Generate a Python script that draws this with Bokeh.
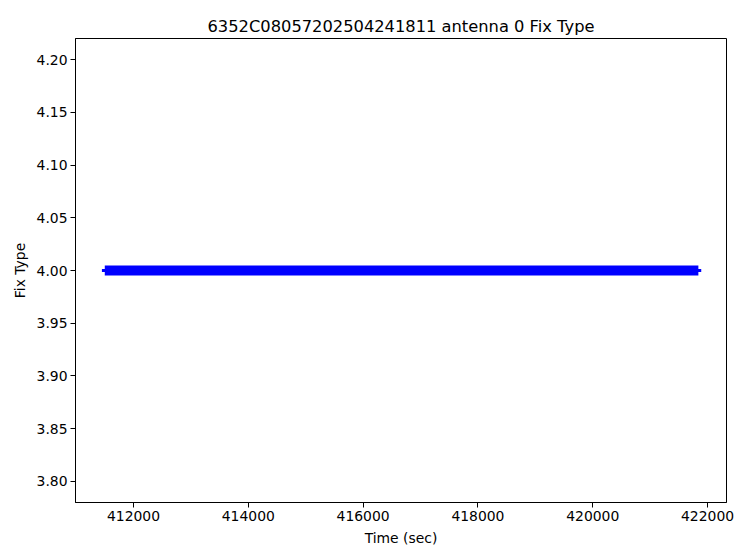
from bokeh.plotting import figure
from bokeh.models import Range1d, FixedTicker
from bokeh.embed import file_html
from bokeh.resources import INLINE

# Data
title_text = "6352C08057202504241811 antenna 0 Fix Type"
time_sec = [411450, 411500, 421840, 421890]
fix_type = [4, 4, 4, 4]
x_ticks = [412000, 414000, 416000, 418000, 420000, 422000]
y_ticks = [3.80, 3.85, 3.90, 3.95, 4.00, 4.05, 4.10, 4.15, 4.20]

FONT = "DejaVu Sans"

p = figure(width=742, height=552, output_backend="svg", toolbar_location=None,
           x_range=Range1d(410990, 422330), y_range=Range1d(3.78, 4.22),
           min_border_left=75, min_border_right=16, min_border_top=38, min_border_bottom=50)

p.title.text = title_text
p.title.align = "center"
p.title.text_font = FONT
p.title.text_font_size = "16.3px"
p.title.text_font_style = "normal"
p.title.text_color = "black"
p.title.standoff = 5

p.line(time_sec, fix_type, line_color="#0000ff", line_width=3)
p.line(time_sec[1:-1], fix_type[1:-1], line_color="#0000ff", line_width=10)

p.grid.visible = False
p.outline_line_color = "black"
p.outline_line_width = 1

for ax in (p.xaxis[0], p.yaxis[0]):
    ax.major_label_text_font = FONT
    ax.major_label_text_font_size = "13.9px"
    ax.major_label_text_color = "black"
    ax.axis_label_text_font = FONT
    ax.axis_label_text_font_size = "13.9px"
    ax.axis_label_text_font_style = "normal"
    ax.axis_label_text_color = "black"
    ax.axis_line_color = "black"
    ax.major_tick_line_color = "black"
    ax.major_tick_in = 0
    ax.major_tick_out = 5
    ax.minor_tick_line_color = None
    ax.major_label_standoff = 3

p.xaxis.ticker = FixedTicker(ticks=x_ticks)
p.yaxis.ticker = FixedTicker(ticks=y_ticks)
p.xaxis.major_label_overrides = {t: str(t) for t in x_ticks}
p.yaxis.major_label_overrides = {t: f"{t:.2f}" for t in y_ticks}
p.xaxis.axis_label = "Time (sec)"
p.yaxis.axis_label = "Fix Type"
p.xaxis.axis_label_standoff = 6
p.yaxis.axis_label_standoff = 6

open("out.html", "w").write(file_html(p, INLINE))
